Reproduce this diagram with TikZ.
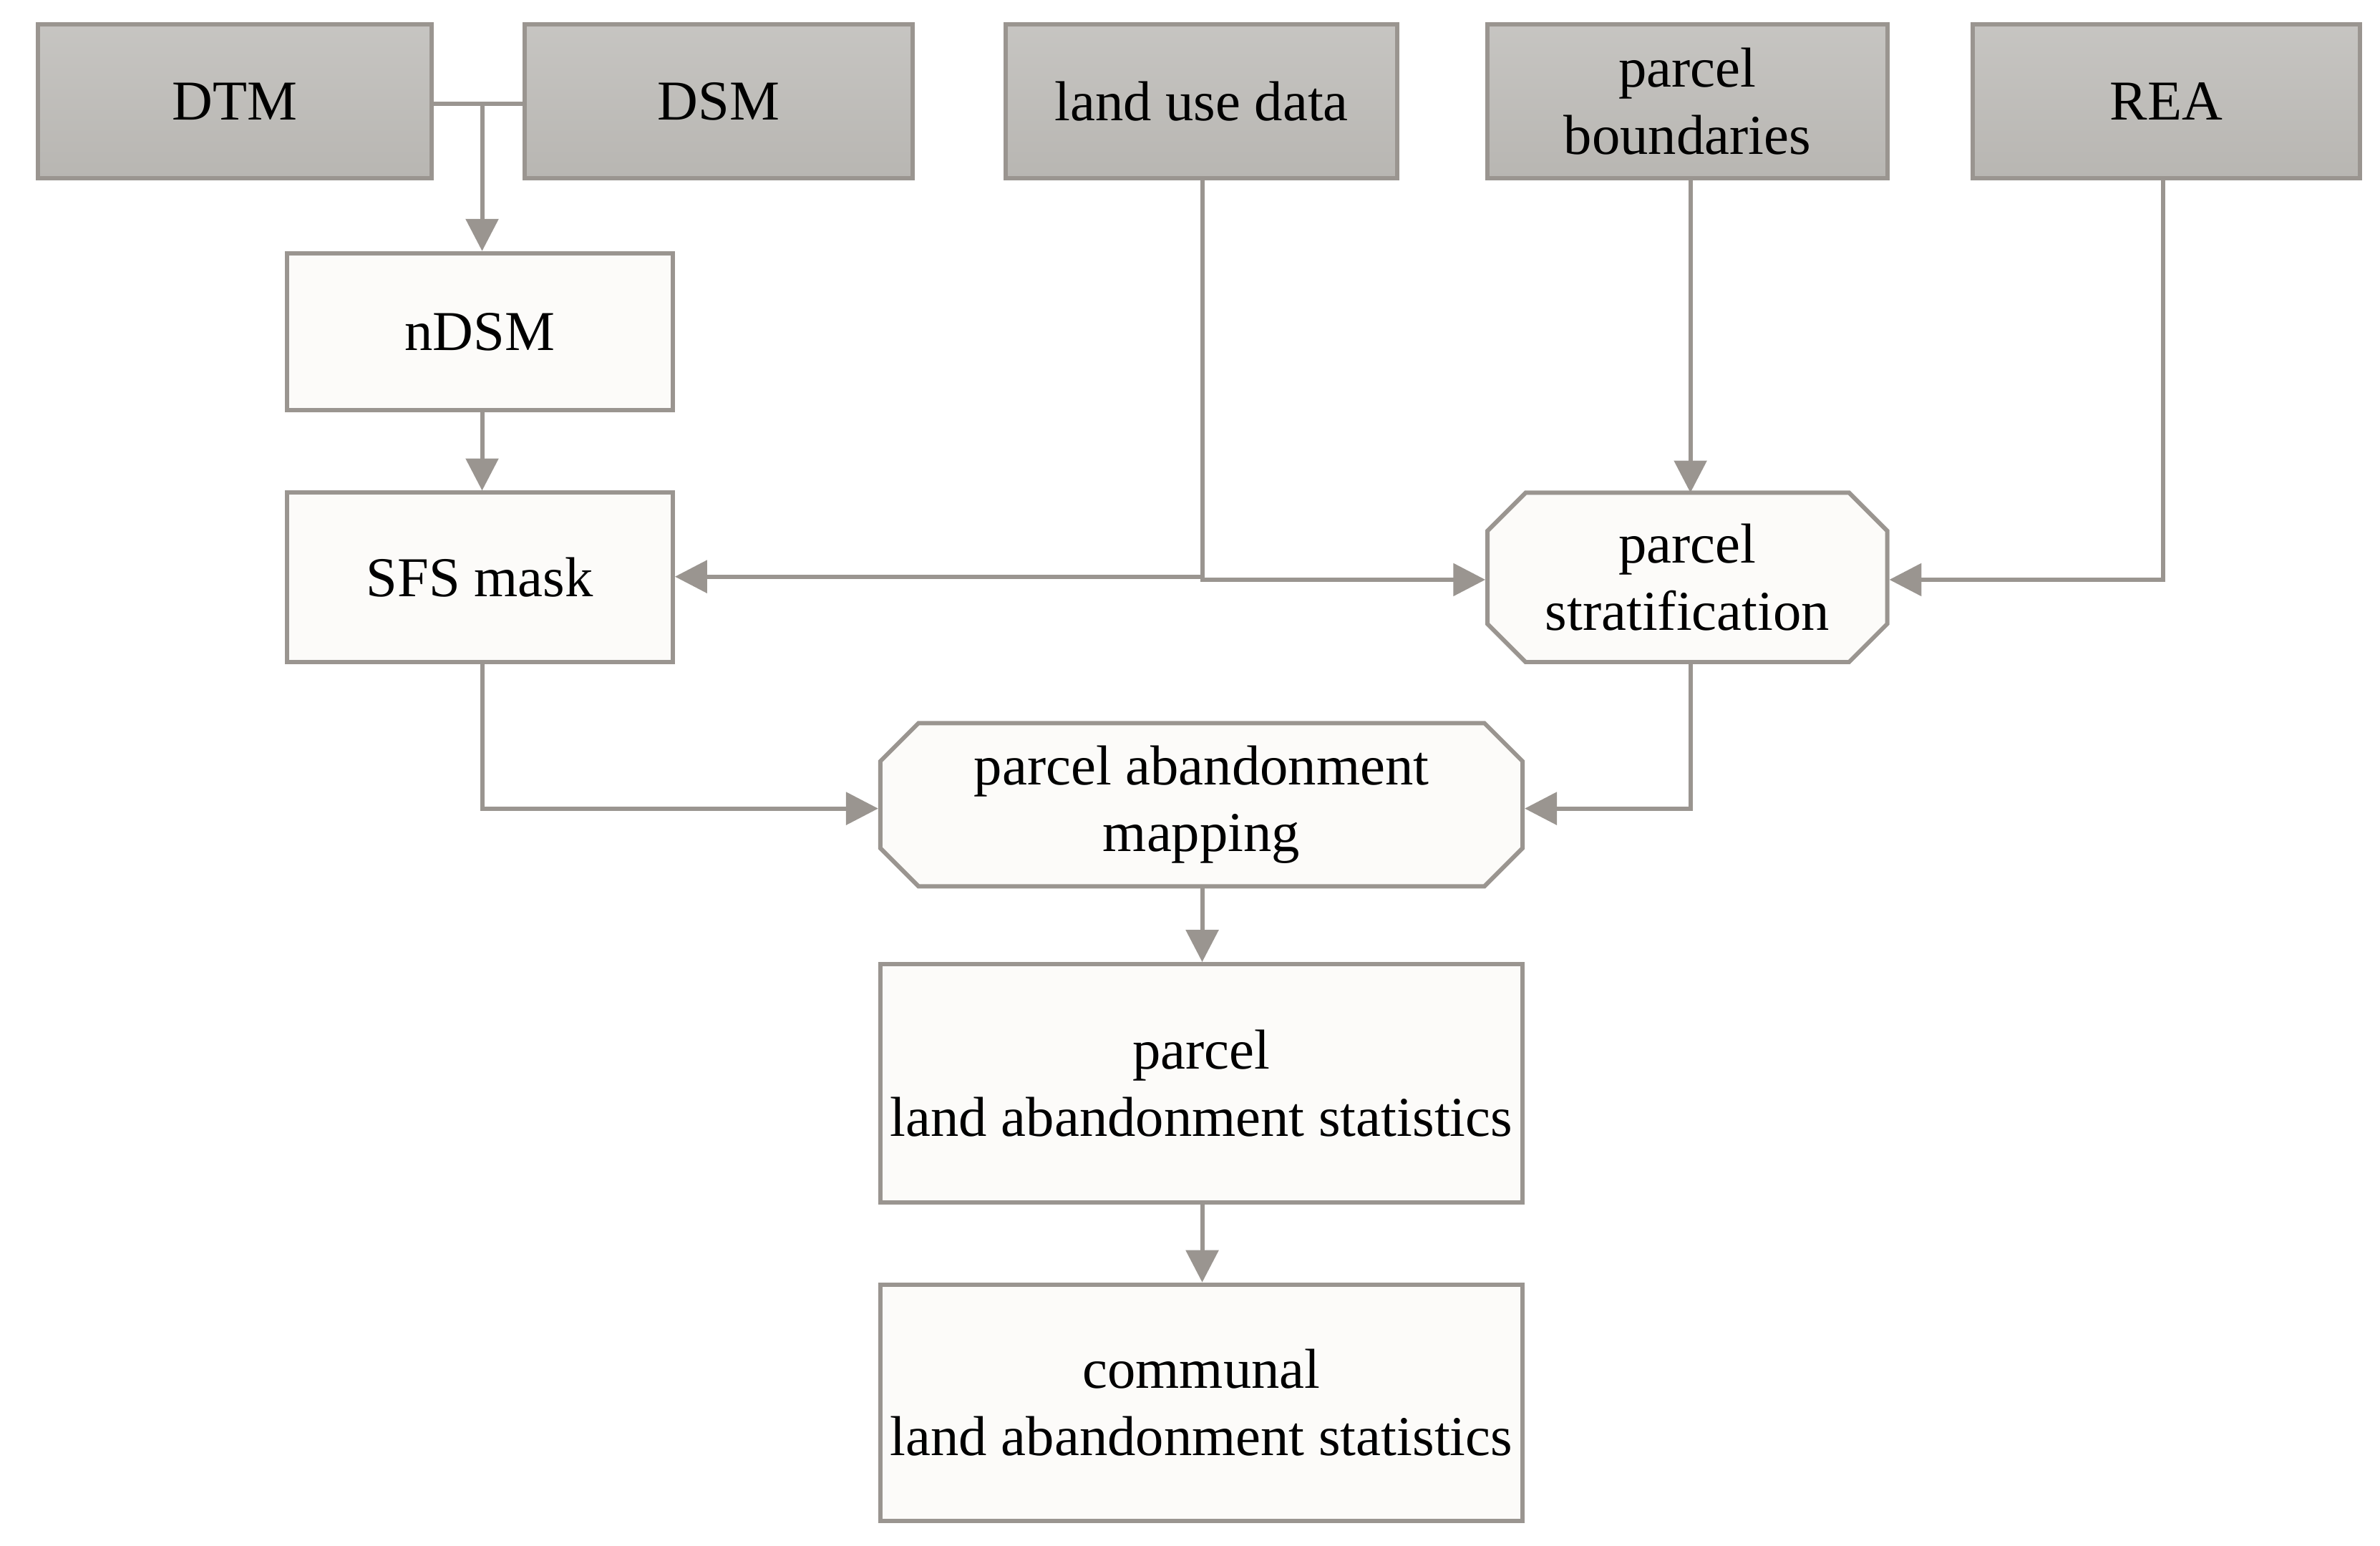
\documentclass[tikz,border=0pt]{standalone}
\usepackage{fontspec}
\setmainfont{Liberation Serif}
\usetikzlibrary{arrows.meta,shapes.misc}
\definecolor{edge}{HTML}{9A9590}
\definecolor{topfill}{HTML}{B8B6B2}
\definecolor{boxfill}{HTML}{FCFBF9}
\begin{document}
\begin{tikzpicture}[x=0.02cm,y=-0.02cm,
  base/.style={draw=edge,line width=1.6pt,align=center,inner sep=0pt,font=\fontsize{21}{25}\selectfont},
  src/.style={base,fill=topfill,top color=topfill!80,bottom color=topfill,minimum height=2.02cm},
  proc/.style={base,fill=boxfill},
  rproc/.style={proc,chamfered rectangle,chamfered rectangle xsep=0.25cm,chamfered rectangle ysep=0.25cm},
  arr/.style={draw=edge,line width=1.6pt,-{Triangle[length=12pt,width=12pt]}},
  ln/.style={draw=edge,line width=1.6pt}]
\useasboundingbox (0,0) rectangle (1560,1013);
\node[src,minimum width=5.16cm] (dtm) at (154,66.5) {DTM};
\node[src,minimum width=5.08cm] (dsm) at (471,66.5) {DSM};
\node[src,minimum width=5.14cm] (lu) at (787.5,66.5) {land use data};
\node[src,minimum width=5.24cm] (pb) at (1106,66.5) {parcel\\boundaries};
\node[src,minimum width=5.08cm] (rea) at (1420,66.5) {REA};
\node[proc,minimum width=5.06cm,minimum height=2.06cm] (ndsm) at (314.5,217.5) {nDSM};
\node[proc,minimum width=5.06cm,minimum height=2.22cm] (sfs) at (314.5,378.5) {SFS mask};
\node[rproc,minimum width=5.24cm,minimum height=2.22cm] (ps) at (1106,378.5) {parcel\\stratification};
\node[rproc,minimum width=8.42cm,minimum height=2.14cm] (pam) at (787.5,527.5) {parcel abandonment\\mapping};
\node[proc,minimum width=8.42cm,minimum height=3.12cm] (pls) at (787.5,710) {parcel\\land abandonment statistics};
\node[proc,minimum width=8.42cm,minimum height=3.1cm] (cls) at (787.5,919.5) {communal\\land abandonment statistics};
\coordinate (j) at (316,68);
\draw[ln] (dtm.east |- j) -- (dsm.west |- j);
\draw[arr] (j) -- (j |- ndsm.north);
\draw[arr] (ndsm.south -| j) -- (sfs.north -| j);
\coordinate (lj) at (788,378);
\draw[arr] (lu.south -| lj) -- (lj) -- (sfs.east |- lj);
\draw[arr] (lj) -- (788,380) -- (ps.west |- 0,380);
\draw[arr] (1108,117) -- (1108,323);
\draw[arr] (rea.south -| 1418,0) -- (1418,380) -- (ps.east |- 0,380);
\draw[arr] (316,434) -- (316,530) -- (pam.west |- 0,530);
\draw[arr] (1108,434) -- (1108,530) -- (pam.east |- 0,530);
\draw[arr] (pam.south -| 788,0) -- (pls.north -| 788,0);
\draw[arr] (pls.south -| 788,0) -- (cls.north -| 788,0);
\end{tikzpicture}
\end{document}
